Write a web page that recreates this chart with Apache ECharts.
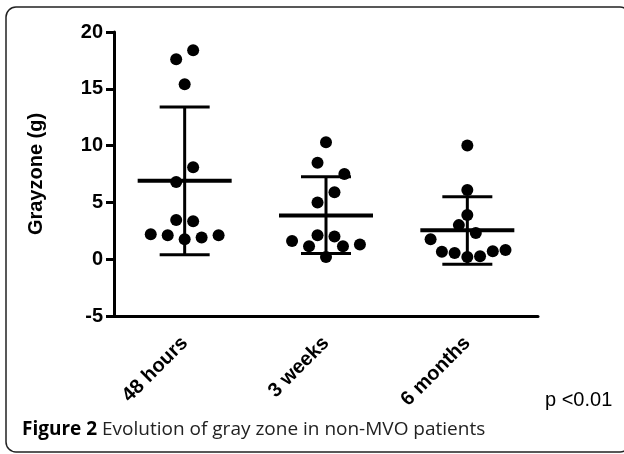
<!DOCTYPE html>
<html>
<head>
    <meta charset="utf-8">
    <script type="text/javascript" src="https://cdn.jsdelivr.net/npm/echarts@6/dist/echarts.min.js"></script>
    <title>Grayzone</title>
    <style>
        html, body { margin: 0; padding: 0; background: #fff; }
        #main { width: 624px; height: 454px; }
    </style>
</head>
<body>
<div id="main"></div>
<script type="text/javascript">
    // data
    var categories = ['48 hours', '3 weeks', '6 months'];
    var hours48 = [18.4, 17.6, 15.4, 8.1, 6.8, 3.45, 3.35, 2.2, 2.1, 1.75, 1.9, 2.1];
    var hours48Jitter = [0.06, -0.06, 0, 0.06, -0.06, -0.06, 0.06, -0.24, -0.12, 0, 0.12, 0.24];
    var weeks3 = [10.3, 8.5, 7.5, 5.9, 5.0, 2.1, 2.0, 1.6, 1.15, 1.15, 1.3, 0.2];
    var weeks3Jitter = [0, -0.06, 0.13, 0.06, -0.06, -0.06, 0.06, -0.24, -0.12, 0.12, 0.24, 0];
    var months6 = [10.0, 6.1, 3.9, 3.0, 2.3, 1.75, 0.65, 0.55, 0.2, 0.25, 0.7, 0.8];
    var months6Jitter = [0, 0, 0, -0.06, 0.06, -0.26, -0.18, -0.09, 0, 0.09, 0.18, 0.27];
    var means = [6.9, 3.85, 2.55];
    var sdUpper = [13.4, 7.25, 5.5];
    var sdLower = [0.4, 0.5, -0.45];
    var yTicks = [-5, 0, 5, 10, 15, 20];

    var font = 'Liberation Sans';

    var groups = [[hours48, hours48Jitter], [weeks3, weeks3Jitter], [months6, months6Jitter]];
    var dots = [];
    groups.forEach(function (g, i) {
        g[0].forEach(function (v, j) {
            dots.push([i + g[1][j], v]);
        });
    });
    var bars = means.map(function (m, i) {
        return [i, m, sdLower[i], sdUpper[i]];
    });

    function renderBar(params, api) {
        var x = api.value(0);
        var mid = api.coord([x, api.value(1)]);
        var lo = api.coord([x, api.value(2)]);
        var hi = api.coord([x, api.value(3)]);
        var st = {stroke: '#000', lineWidth: 3};
        return {
            type: 'group',
            children: [
                {type: 'line', shape: {x1: lo[0], y1: lo[1], x2: hi[0], y2: hi[1]}, style: st},
                {type: 'line', shape: {x1: hi[0] - 25, y1: hi[1], x2: hi[0] + 25, y2: hi[1]}, style: st},
                {type: 'line', shape: {x1: lo[0] - 25, y1: lo[1], x2: lo[0] + 25, y2: lo[1]}, style: st},
                {type: 'line', shape: {x1: mid[0] - 47, y1: mid[1], x2: mid[0] + 47, y2: mid[1]},
                    style: {stroke: '#000', lineWidth: 4}}
            ]
        };
    }

    var myChart = echarts.init(document.getElementById('main'));
    var option = {
        backgroundColor: '#fff',
        animation: false,
        grid: {left: 114, right: 86, top: 32, bottom: 138},
        xAxis: [{
            type: 'category',
            data: categories,
            axisLine: {onZero: false, lineStyle: {color: '#000', width: 3}},
            axisTick: {alignWithLabel: true, length: 10, lineStyle: {color: '#000', width: 3}},
            axisLabel: {
                rotate: 45, interval: 0, margin: 24, color: '#000',
                fontFamily: font, fontWeight: 'bold', fontSize: 20
            },
            splitLine: {show: false}
        }, {
            type: 'value',
            min: -0.5,
            max: 2.5,
            show: false
        }],
        yAxis: {
            type: 'value',
            min: yTicks[0],
            max: yTicks[yTicks.length - 1],
            interval: 5,
            name: 'Grayzone (g)',
            nameLocation: 'middle',
            nameGap: 68,
            nameTextStyle: {color: '#000', fontFamily: font, fontWeight: 'bold', fontSize: 20},
            axisLine: {show: true, onZero: false, lineStyle: {color: '#000', width: 3}},
            axisTick: {show: true, length: 8, lineStyle: {color: '#000', width: 3}},
            axisLabel: {margin: 11, color: '#000', fontFamily: font, fontWeight: 'bold', fontSize: 20},
            splitLine: {show: false}
        },
        series: [{
            type: 'custom',
            xAxisIndex: 1,
            renderItem: renderBar,
            data: bars,
            z: 2
        }, {
            type: 'scatter',
            xAxisIndex: 1,
            data: dots,
            symbol: 'circle',
            symbolSize: 12,
            itemStyle: {color: '#000', opacity: 1},
            z: 3
        }],
        graphic: [{
            type: 'rect',
            shape: {x: 6, y: 7, width: 624, height: 445, r: 10},
            style: {fill: 'none', stroke: '#222', lineWidth: 1.5},
            silent: true
        }, {
            type: 'text',
            left: 545,
            top: 390,
            style: {text: 'p <0.01', fill: '#000', font: '20px ' + font}
        }, {
            type: 'text',
            left: 22,
            top: 420,
            style: {
                text: '{b|Figure 2} Evolution of gray zone in non-MVO patients',
                fill: '#222',
                font: '19px "Open Sans"',
                rich: {b: {fontWeight: 'bold', fontFamily: 'Open Sans', fontSize: 19, fill: '#000'}}
            }
        }]
    };
    myChart.setOption(option);
</script>
</body>
</html>
